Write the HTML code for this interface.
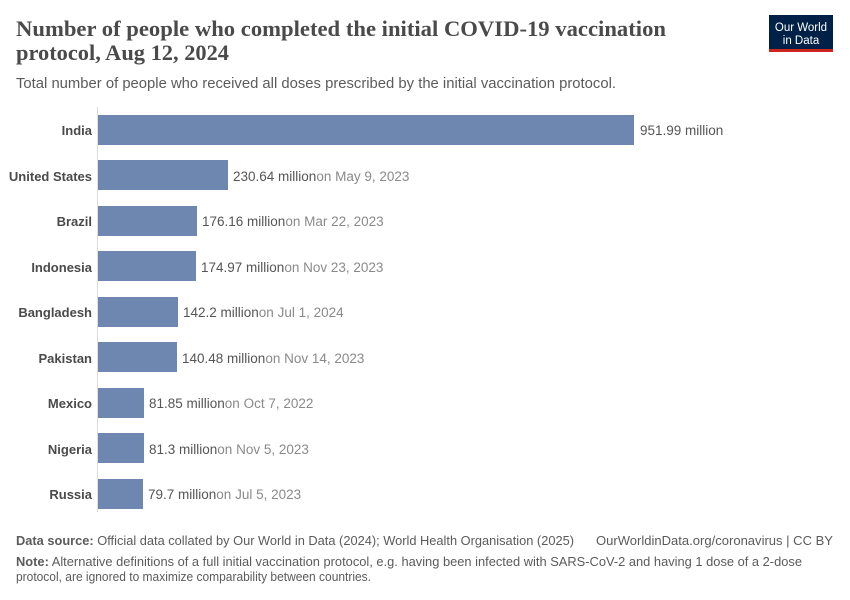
<!DOCTYPE html>
<html><head><meta charset="utf-8"><style>
html,body{margin:0;padding:0;background:#fff;}
svg{display:block;font-family:"Liberation Sans",sans-serif;}
</style></head><body>
<svg width="850" height="600" xmlns="http://www.w3.org/2000/svg">
<text x="16" y="36" font-family="Liberation Serif" font-weight="bold" font-size="22.5" fill="#4a4a4a" textLength="650" lengthAdjust="spacingAndGlyphs">Number of people who completed the initial COVID-19 vaccination</text>
<text x="16" y="60" font-family="Liberation Serif" font-weight="bold" font-size="22.5" fill="#4a4a4a" textLength="213" lengthAdjust="spacingAndGlyphs">protocol, Aug 12, 2024</text>
<text x="16" y="88" font-size="14.5" fill="#5b5b5b" textLength="600" lengthAdjust="spacingAndGlyphs">Total number of people who received all doses prescribed by the initial vaccination protocol.</text>
<rect x="769" y="15" width="64" height="35" fill="#002147"/>
<rect x="769" y="49" width="64" height="3" fill="#ce261e"/>
<text x="801" y="31" font-size="11.5" fill="#fff" text-anchor="middle">Our World</text>
<text x="801" y="44" font-size="11.5" fill="#fff" text-anchor="middle">in Data</text>
<line x1="97.5" y1="107" x2="97.5" y2="512" stroke="#ddd" stroke-width="1"/>
<g font-size="13.5" fill="#555">
<g font-weight="bold" text-anchor="end" fill="#4a4a4a" font-size="13">
<text x="92" y="135">India</text>
<text x="92" y="181">United States</text>
<text x="92" y="226">Brazil</text>
<text x="92" y="272">Indonesia</text>
<text x="92" y="317">Bangladesh</text>
<text x="92" y="363">Pakistan</text>
<text x="92" y="408">Mexico</text>
<text x="92" y="454">Nigeria</text>
<text x="92" y="499">Russia</text>
</g>
<g fill="#6d87b0">
<rect x="98" y="115" width="536" height="30"/>
<rect x="98" y="160" width="130" height="30"/>
<rect x="98" y="206" width="99" height="30"/>
<rect x="98" y="251" width="98" height="30"/>
<rect x="98" y="297" width="80" height="30"/>
<rect x="98" y="342" width="79" height="30"/>
<rect x="98" y="388" width="46" height="30"/>
<rect x="98" y="433" width="46" height="30"/>
<rect x="98" y="479" width="45" height="30"/>
</g>
<text x="640" y="135">951.99 million</text>
<text x="233" y="181">230.64 million<tspan fill="#8a8a8a">on May 9, 2023</tspan></text>
<text x="202" y="226">176.16 million<tspan fill="#8a8a8a">on Mar 22, 2023</tspan></text>
<text x="201" y="272">174.97 million<tspan fill="#8a8a8a">on Nov 23, 2023</tspan></text>
<text x="183" y="317">142.2 million<tspan fill="#8a8a8a">on Jul 1, 2024</tspan></text>
<text x="182" y="363">140.48 million<tspan fill="#8a8a8a">on Nov 14, 2023</tspan></text>
<text x="149" y="408">81.85 million<tspan fill="#8a8a8a">on Oct 7, 2022</tspan></text>
<text x="149" y="454">81.3 million<tspan fill="#8a8a8a">on Nov 5, 2023</tspan></text>
<text x="148" y="499">79.7 million<tspan fill="#8a8a8a">on Jul 5, 2023</tspan></text>
</g>
<g font-size="12.5" fill="#5b5b5b">
<text x="16" y="545" textLength="558" lengthAdjust="spacingAndGlyphs"><tspan font-weight="bold">Data source:</tspan> Official data collated by Our World in Data (2024); World Health Organisation (2025)</text>
<text x="596" y="545" textLength="237" lengthAdjust="spacingAndGlyphs">OurWorldinData.org/coronavirus | CC BY</text>
<text x="16" y="566" textLength="786" lengthAdjust="spacingAndGlyphs"><tspan font-weight="bold">Note:</tspan> Alternative definitions of a full initial vaccination protocol, e.g. having been infected with SARS-CoV-2 and having 1 dose of a 2-dose</text>
<text x="16" y="581" textLength="355" lengthAdjust="spacingAndGlyphs">protocol, are ignored to maximize comparability between countries.</text>
</g>
</svg>
</body></html>
